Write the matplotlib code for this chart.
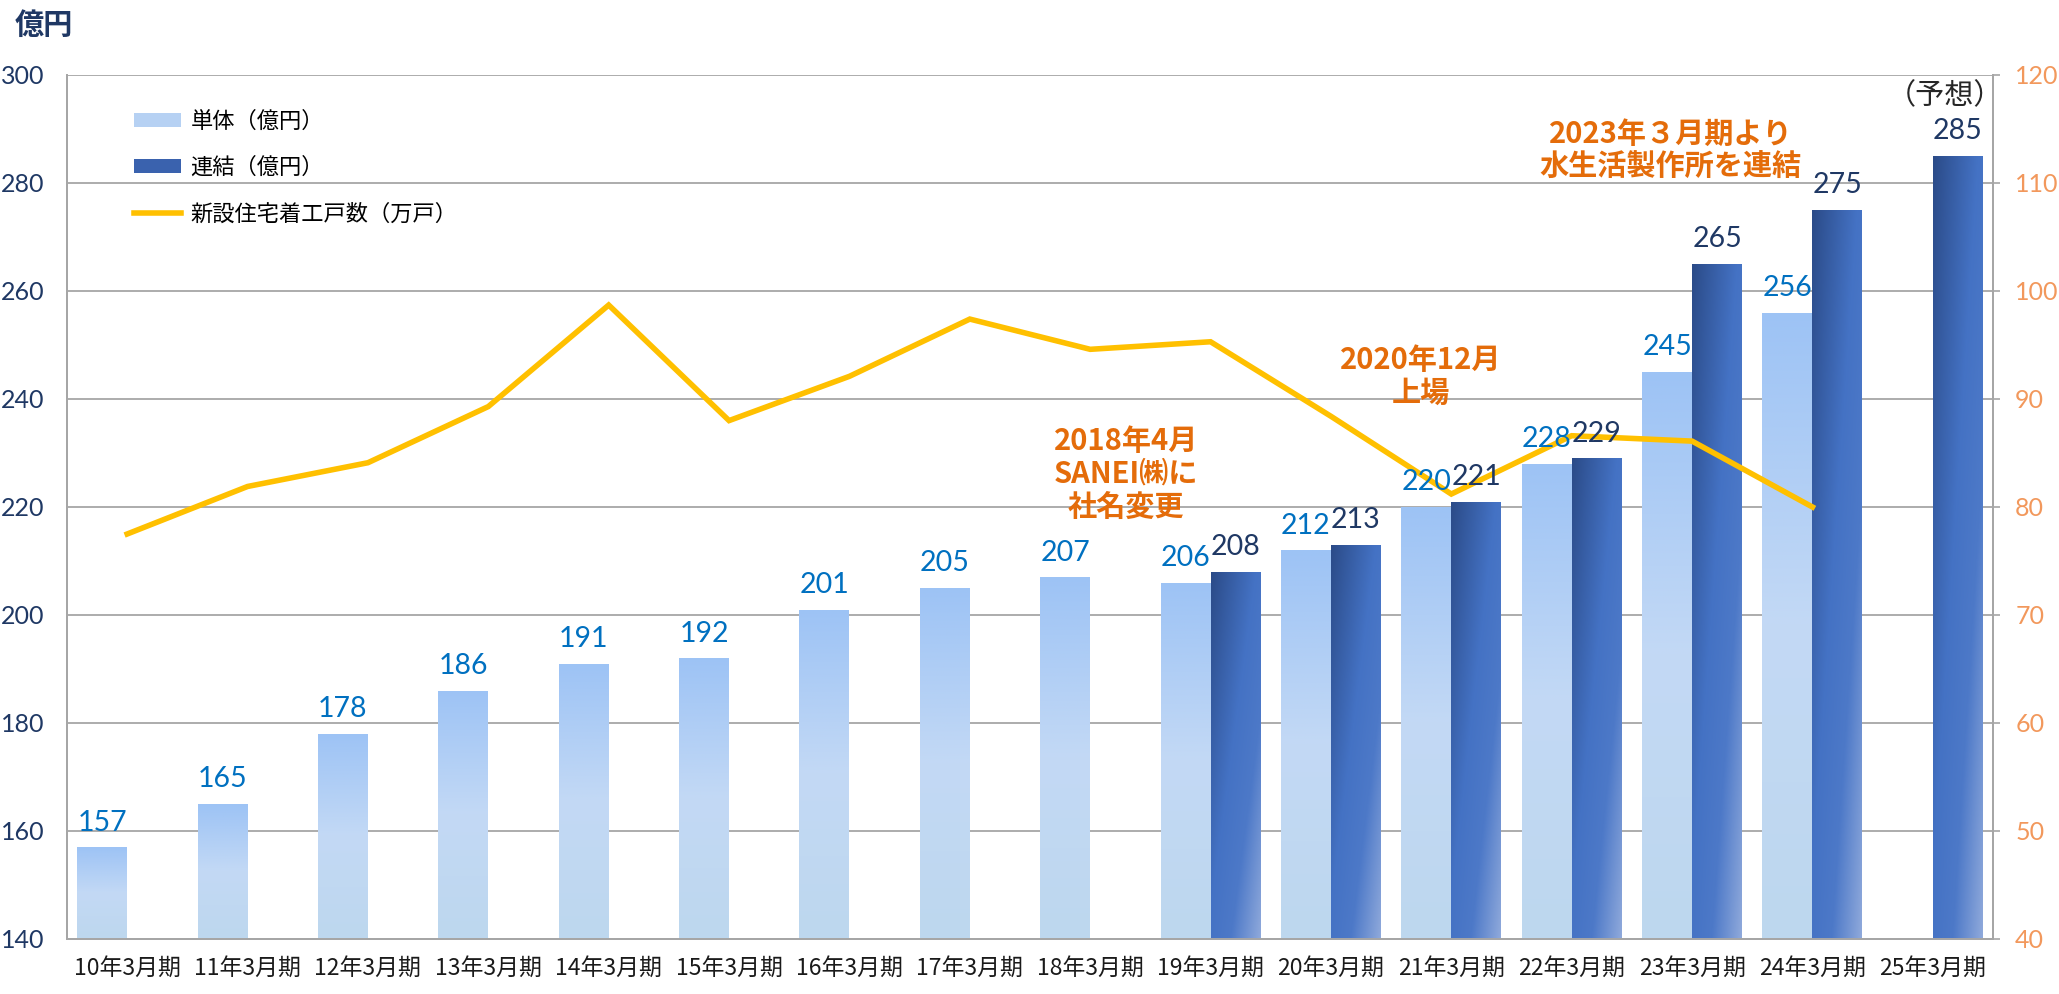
import matplotlib

matplotlib.use("Agg")
import matplotlib.pyplot as plt
import numpy as np
from matplotlib.colors import LinearSegmentedColormap
from matplotlib.lines import Line2D
from matplotlib.patches import Patch

plt.rcParams["font.family"] = ["Noto Sans CJK JP", "DejaVu Sans"]

# --- data -----------------------------------------------------------------
categories = [
    "10年3月期", "11年3月期", "12年3月期", "13年3月期", "14年3月期",
    "15年3月期", "16年3月期", "17年3月期", "18年3月期", "19年3月期",
    "20年3月期", "21年3月期", "22年3月期", "23年3月期", "24年3月期",
    "25年3月期",
]
tantai = [157, 165, 178, 186, 191, 192, 201, 205, 207, 206, 212, 220, 228, 245, 256, None]
renketsu = [None, None, None, None, None, None, None, None, None,
            208, 213, 221, 229, 265, 275, 285]
housing_starts = [77.5, 81.9, 84.1, 89.3, 98.7, 88.0, 92.1, 97.4, 94.6,
                  95.3, 88.4, 81.2, 86.6, 86.1, 80.0]
left_ticks = [140, 160, 180, 200, 220, 240, 260, 280, 300]
right_ticks = [40, 50, 60, 70, 80, 90, 100, 110, 120]

NAVY = "#1F3864"
BLUE_LBL = "#0070C0"
ORANGE = "#E46C0A"
AX_ORANGE = "#F2985C"
GRID = "#A6A6A6"
LINE_Y = "#FFC000"
NUM_FONT = ["Lato", "DejaVu Sans"]

light_cmap = LinearSegmentedColormap.from_list(
    "light", [(0, "#9DC3F5"), (0.5, "#C3D9F5"), (1, "#BDD7EE")])
dark_cmap = LinearSegmentedColormap.from_list(
    "dark", [(0, "#2B4B88"), (0.45, "#4472C4"), (0.7, "#4D79C8"), (1, "#8FA9DB")])


def fill_gradient(ax, rect, kind):
    """Paint a gradient image inside a bar rectangle."""
    x0, y0 = rect.get_x(), rect.get_y()
    w, h = rect.get_width(), rect.get_height()
    if kind == "light":
        img = light_cmap(np.linspace(0, 1, 256).reshape(-1, 1))
    else:
        xx, yy = np.meshgrid(np.linspace(0, 1, 64), np.linspace(0, 1, 256))
        img = dark_cmap(0.5 * xx + 0.5 * yy)
    im = ax.imshow(img, extent=[x0, x0 + w, y0, y0 + h], origin="upper",
                   aspect="auto", interpolation="bilinear", zorder=2)
    im.set_clip_path(rect)


fig = plt.figure(figsize=(20.59, 9.94), dpi=100)
ax = fig.add_axes([67 / 2059, 1 - 939 / 994, (1993 - 67) / 2059, (939 - 75) / 994])
ax2 = ax.twinx()

x = np.arange(len(categories))
w = 0.415

t_idx = [i for i, v in enumerate(tantai) if v is not None]
t_val = [tantai[i] for i in t_idx]
r_idx = [i for i, v in enumerate(renketsu) if v is not None]
r_val = [renketsu[i] for i in r_idx]

bottom = left_ticks[0]
t_bars = ax.bar(np.array(t_idx) - w / 2, np.array(t_val) - bottom, w, bottom=bottom,
                facecolor="none", edgecolor="none", zorder=2)
r_bars = ax.bar(np.array(r_idx) + w / 2, np.array(r_val) - bottom, w, bottom=bottom,
                facecolor="none", edgecolor="none", zorder=2)
for rect in t_bars:
    fill_gradient(ax, rect, "light")
for rect in r_bars:
    fill_gradient(ax, rect, "dark")

ax2.plot(x[:len(housing_starts)], housing_starts, color=LINE_Y, lw=4.0,
         solid_joinstyle="miter", zorder=3)

# data labels (on ax2 so they sit above the line)
for i, v in zip(t_idx, t_val):
    ax2.annotate(str(v), (i - w / 2, v), xycoords=ax.transData, xytext=(0, 12),
                 textcoords="offset points", ha="center", va="baseline",
                 fontsize=20.5, color=BLUE_LBL, family=NUM_FONT, zorder=5)
for i, v in zip(r_idx, r_val):
    ax2.annotate(str(v), (i + w / 2, v), xycoords=ax.transData, xytext=(0, 12),
                 textcoords="offset points", ha="center", va="baseline",
                 fontsize=20.5, color=NAVY, family=NUM_FONT, zorder=5)

# axes styling
ax.set_xlim(-0.5, len(categories) - 0.5)
ax.set_ylim(left_ticks[0], left_ticks[-1])
ax2.set_ylim(right_ticks[0], right_ticks[-1])
ax.set_yticks(left_ticks)
ax2.set_yticks(right_ticks)
ax.set_xticks(x)
ax.set_xticklabels(categories, fontsize=16.5, color="#1A1A1A")
ax.set_yticklabels([str(t) for t in left_ticks], fontsize=18, color=NAVY, family=NUM_FONT)
ax2.set_yticklabels([str(t) for t in right_ticks], fontsize=18, color=AX_ORANGE,
                    family=NUM_FONT)
ax.tick_params(axis="x", length=0, pad=13)
ax.tick_params(axis="y", length=0, pad=16)
ax2.tick_params(axis="y", length=5, width=1.2, color=GRID, pad=11)
ax.set_axisbelow(True)
ax.grid(axis="y", color=GRID, lw=1.3)
for a in (ax, ax2):
    a.spines["top"].set_visible(False)
    for side in ("left", "right", "bottom"):
        a.spines[side].set_color(GRID)
        a.spines[side].set_linewidth(1.3)

# legend
handles = [
    Patch(facecolor="#B6D1F3", edgecolor="none"),
    Patch(facecolor="#3A62AE", edgecolor="none"),
    Line2D([], [], color=LINE_Y, lw=4.0),
]
labels = ["単体（億円）", "連結（億円）", "新設住宅着工戸数（万戸）"]
ax2.legend(handles, labels, loc="upper left", bbox_to_anchor=(0.03, 0.97),
           frameon=False, fontsize=16, handlelength=2.15, handleheight=0.6,
           handletextpad=0.4, labelspacing=1.05, borderaxespad=0)

# annotations
note_style = dict(transform=ax.transData, ha="center", va="center", fontsize=21,
                  fontweight="bold", color=ORANGE, linespacing=1.12, zorder=6)
ax2.text(8.30, 226.1, "2018年4月\nSANEI㈱に\n社名変更", **note_style)
ax2.text(10.75, 244.2, "2020年12月\n上場", **note_style)
ax2.text(12.82, 286.0, "2023年３月期より\n水生活製作所を連結", **note_style)
ax2.text(15.1, 296.0, "（予想）", transform=ax.transData, ha="center", va="center",
         fontsize=21, color="#262626", zorder=6)

fig.text(15 / 2059, 1 - 25 / 994, "億円", ha="left", va="center", fontsize=21,
         fontweight="bold", color=NAVY)

fig.savefig("out.png", dpi=100)
